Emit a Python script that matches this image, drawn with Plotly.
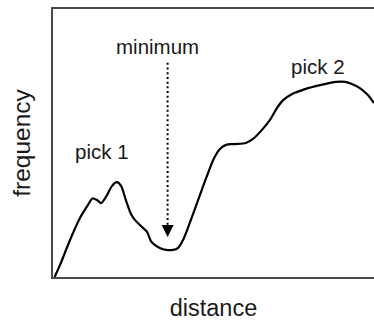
import plotly.graph_objects as go

# curve (distance in %, frequency in %)
distance = [0.5, 2.2, 5.3, 8.4, 10.9, 12.3, 13.7, 15.0, 16.5, 18.4, 19.9, 21.2, 22.7, 24.3,
            25.5, 27.4, 29.3, 30.5, 31.8, 33.3, 35.2, 37.4, 38.9, 40.5, 42.7, 45.2, 47.7,
            50.2, 52.0, 53.9, 56.4, 60.1, 62.3, 65.1, 67.6, 69.8, 71.7, 74.5, 78.5, 83.2,
            88.2, 91.0, 93.1, 95.6, 98.1, 100.0]
frequency = [0.0, 4.5, 13.8, 22.0, 26.9, 29.3, 28.7, 27.6, 29.9, 34.0, 35.4, 34.0, 28.7, 23.5,
             21.3, 19.0, 16.8, 13.4, 11.9, 10.8, 10.1, 10.1, 10.8, 13.8, 20.5, 28.7, 36.9,
             44.4, 47.8, 49.3, 49.6, 50.0, 51.5, 54.9, 58.6, 63.1, 66.0, 68.3, 70.1, 71.6,
             72.8, 72.8, 72.0, 70.5, 67.9, 64.9]

# labels
label_text = ["pick 1", "minimum", "pick 2"]
label_x = [15.3, 32.7, 82.5]
label_y = [46.7, 86.0, 78.5]

# arrow marking the minimum
arrow_x = 35.7
arrow_top = 79.9
arrow_tip = 14.9

FONT = "Liberation Sans, Arial, Helvetica, sans-serif"

fig = go.Figure()
fig.add_trace(go.Scatter(x=distance, y=frequency, mode="lines",
                         line=dict(color="black", width=2.2, shape="spline", smoothing=0.8),
                         hoverinfo="skip", showlegend=False, cliponaxis=False))
fig.add_trace(go.Scatter(x=[arrow_x, arrow_x], y=[arrow_top, arrow_tip + 4],
                         mode="lines", line=dict(color="black", width=2, dash="2px,2.7px"),
                         hoverinfo="skip", showlegend=False))
fig.add_annotation(x=arrow_x, y=arrow_tip, ax=arrow_x, ay=arrow_tip + 5,
                   xref="x", yref="y", axref="x", ayref="y",
                   showarrow=True, arrowhead=2, arrowsize=1.2, arrowwidth=2,
                   arrowcolor="black", text="")
for t, x, y in zip(label_text, label_x, label_y):
    fig.add_annotation(x=x, y=y, xref="x", yref="y", text=t, showarrow=False,
                       font=dict(family=FONT, size=20.5, color="#1a1a1a"))

fig.update_layout(
    width=374, height=321,
    margin=dict(l=53, r=0, t=9, b=44, autoexpand=False),
    paper_bgcolor="white", plot_bgcolor="white",
    font=dict(family=FONT, color="#1a1a1a"),
    xaxis=dict(range=[0, 100], showgrid=False, zeroline=False, showticklabels=False,
               ticks="", showline=True, linecolor="#4a4a4a", linewidth=1.5, mirror=True,
               automargin=False,
               title=dict(text="distance", font=dict(size=23.5), standoff=30)),
    yaxis=dict(range=[0, 100], showgrid=False, zeroline=False, showticklabels=False,
               ticks="", showline=True, linecolor="#4a4a4a", linewidth=1.5,
               automargin=False,
               title=dict(text="frequency", font=dict(size=24.5), standoff=14)),
)
fig.write_html("out.html", config={"displayModeBar": False},
               post_script="document.body.style.margin='0';document.body.style.overflow='hidden';")
